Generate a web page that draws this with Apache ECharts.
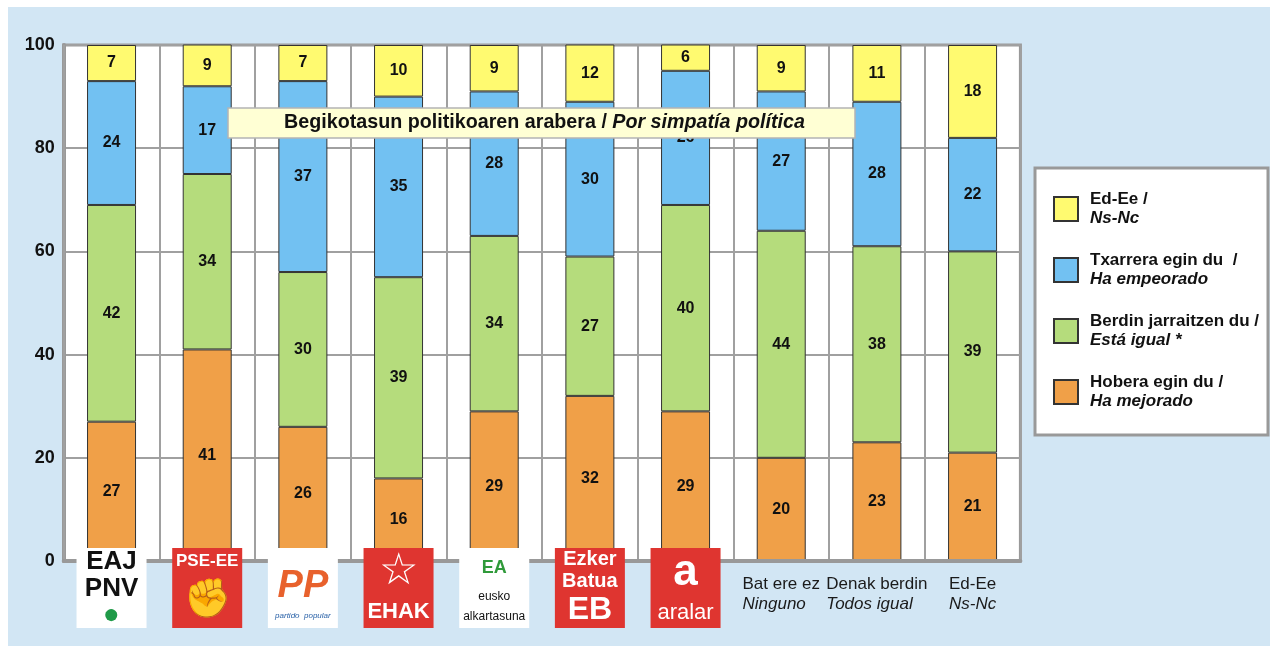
<!DOCTYPE html>
<html><head><meta charset="utf-8">
<script src="https://cdn.jsdelivr.net/npm/echarts@6/dist/echarts.min.js"></script>
<style>html,body{margin:0;padding:0;background:#fff;}#main{position:absolute;left:8px;top:7px;width:1262px;height:639px;background:#d2e6f4;}</style>
</head><body><div id="main"></div>
<script>
const categories = ['EAJ-PNV','PSE-EE','PP','EHAK','EA','EB','Aralar','Bat ere ez|Ninguno','Denak berdin|Todos igual','Ed-Ee|Ns-Nc'];
const hobera   = [27,41,26,16,29,32,29,20,23,21];
const berdin   = [42,34,30,39,34,27,40,44,38,39];
const txarrera = [24,17,37,35,28,30,26,27,28,22];
const edee     = [7,9,7,10,9,12,6,9,11,18];
const seriesNames = ['Hobera egin du / Ha mejorado','Berdin jarraitzen du / Está igual *','Txarrera egin du  / Ha empeorado','Ed-Ee / Ns-Nc'];
const colors = ['#f0a048','#b5dc7c','#72c1f2','#fffa70'];
const titleBasque = 'Begikotasun politikoaren arabera / ';
const titleSpanish = 'Por simpatía política';

const FF = '"Liberation Sans", Arial, sans-serif';
const logos = {
  'EAJ-PNV': '{eajA|EAJ}\n{eajA|PNV}\n{eajS|●}',
  'PSE-EE': '{pseA|PSE-EE}\n{pseB|✊}',
  'PP': '{ppA| }\n{ppB|PP}\n{ppC|partido  popular}',
  'EHAK': '{ehA|☆}\n{ehB|EHAK}',
  'EA': '{eaA|EA}\n{eaB|eusko}\n{eaC|alkartasuna}',
  'EB': '{ebA|Ezker}\n{ebA|Batua}\n{ebB|EB}',
  'Aralar': '{arA|a}\n{arB|aralar}'
};
function tok(bg, color, size, h, extra) {
  return Object.assign({backgroundColor: bg, color: color, fontSize: size, fontFamily: FF, fontWeight: 'bold',
    width: 70, height: h, lineHeight: h, align: 'center', verticalAlign: 'middle'}, extra || {});
}
const RED = '#df3530';
const rich = {
  eajA: tok('#fff', '#111', 26, 27),
  eajS: tok('#fff', '#1f9a48', 28, 26),
  pseA: tok(RED, '#fff', 17, 26),
  pseB: tok(RED, '#f7c9c7', 38, 54, {fontWeight: 'normal'}),
  ppA: tok('#fff', '#fff', 10, 22),
  ppB: tok('#fff', '#e8612c', 38, 34, {fontStyle: 'italic'}),
  ppC: tok('#fff', '#2a62a8', 8, 24, {fontStyle: 'italic', fontWeight: 'normal'}),
  ehA: tok(RED, '#fff', 44, 48, {fontWeight: 'normal'}),
  ehB: tok(RED, '#fff', 22, 32),
  eaA: tok('#fff', '#2f9a3a', 18, 40),
  eaB: tok('#fff', '#111', 12, 17, {fontWeight: 'normal'}),
  eaC: tok('#fff', '#111', 12, 23, {fontWeight: 'normal'}),
  ebA: tok(RED, '#fff', 20, 22),
  ebB: tok(RED, '#fff', 32, 36),
  arA: tok(RED, '#fff', 44, 50),
  arB: tok(RED, '#fff', 22, 30, {fontWeight: 'normal'}),
  sp: {height: 26, lineHeight: 26, fontSize: 1, width: 10},
  t1: {fontSize: 17, fontFamily: FF, color: '#1a1a1a', lineHeight: 20, align: 'left'},
  t2: {fontSize: 17, fontFamily: FF, color: '#1a1a1a', lineHeight: 20, align: 'left', fontStyle: 'italic'}
};

const dataArr = [hobera, berdin, txarrera, edee];
const series = dataArr.map((d, i) => ({
  name: seriesNames[i], type: 'bar', stack: 'all', data: d, barWidth: 49, clip: true,
  itemStyle: {color: colors[i], borderColor: '#333', borderWidth: 1},
  label: {show: true, position: 'inside', fontSize: 16, fontWeight: 'bold', color: '#111', fontFamily: FF}
}));

const chart = echarts.init(document.getElementById('main'));
chart.setOption({
  animation: false,
  grid: {left: 55.7, top: 38, width: 956.7, height: 516, show: true, backgroundColor: '#fff', borderColor: '#999', borderWidth: 3},
  xAxis: {
    type: 'category', data: categories, z: 10,
    axisLine: {lineStyle: {color: '#999', width: 4}},
    axisTick: {show: false},
    splitLine: {show: true, interval: 0, lineStyle: {color: '#a0a0a0', width: 2}},
    axisLabel: {
      interval: 0, margin: -13, rich: rich,
      formatter: function (v) {
        if (logos[v]) return logos[v];
        const p = v.split('|');
        return '{sp| }\n{t1|' + p[0] + '}\n{t2|' + p[1] + '}';
      }
    }
  },
  yAxis: {
    type: 'value', min: 0, max: 100, interval: 20,
    axisLine: {show: true, lineStyle: {color: '#999', width: 4}},
    axisTick: {show: false},
    splitLine: {lineStyle: {color: '#a0a0a0', width: 2}},
    axisLabel: {margin: 9, fontSize: 18, fontWeight: 'bold', color: '#111', fontFamily: FF}
  },
  legend: {
    orient: 'vertical', left: 1040, top: 179, itemWidth: 24, itemHeight: 24, itemGap: 25, icon: 'rect',
    data: [seriesNames[3], seriesNames[2], seriesNames[1], seriesNames[0]],
    formatter: function (name) { const p = name.split(' / '); return '{a|' + p[0] + ' /}\n{b|' + p[1] + '}'; },
    textStyle: {rich: {
      a: {fontSize: 17, fontWeight: 'bold', color: '#111', lineHeight: 19, fontFamily: FF, padding: [0,0,0,7]},
      b: {fontSize: 17, fontWeight: 'bold', fontStyle: 'italic', color: '#111', lineHeight: 19, fontFamily: FF, padding: [0,0,0,7]}
    }}
  },
  graphic: [
    {type: 'rect', z: 1, shape: {x: 1027, y: 161, width: 233, height: 267}, style: {fill: '#fff', stroke: '#999', lineWidth: 3}},
    {type: 'rect', z: 100, shape: {x: 220, y: 101, width: 627, height: 30}, style: {fill: '#ffffd4', stroke: '#b4b4b4', lineWidth: 1.5}},
    {type: 'text', z: 101, x: 536.5, y: 116, style: {
      text: '{a|' + titleBasque + '}{b|' + titleSpanish + '}', align: 'center', verticalAlign: 'middle',
      rich: {a: {fontSize: 19.7, fontWeight: 'bold', fontFamily: FF, fill: '#111', color: '#111'},
             b: {fontSize: 19.7, fontWeight: 'bold', fontStyle: 'italic', fontFamily: FF, fill: '#111', color: '#111'}}
    }}
  ],
  series: series
});
</script></body></html>
